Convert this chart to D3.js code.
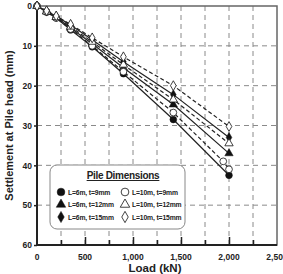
<!DOCTYPE html>
<html>
<head>
<meta charset="utf-8">
<script src="https://cdn.jsdelivr.net/npm/d3@7"></script>
<style>
  body { margin: 0; background: #fff; }
  text { font-family: "Liberation Sans", Arial, sans-serif; font-weight: bold; fill: #222; }
</style>
</head>
<body>
<div id="main"></div>
<script>
// load steps (kN)
const loads = [0, 100, 200, 350, 575, 900, 1420, 2000];
const loadsL10t9 = [0, 100, 200, 350, 575, 900, 1420, 1940, 2000];

// settlement at pile head (mm)
const sL6t9 = [0, 1.5, 3, 6, 10.25, 17, 28.5, 42.5];
const sL6t12 = [0, 1.4, 2.8, 5.5, 9.5, 15.5, 24.75, 37];
const sL6t15 = [0, 1.3, 2.6, 4.8, 8.5, 14, 22.25, 33];
const sL10t9 = [0, 1.5, 3, 5.8, 10, 16.5, 26.75, 39, 41];
const sL10t12 = [0, 1.4, 2.8, 5.2, 9, 14.75, 23.5, 34.5];
const sL10t15 = [0, 1.2, 2.5, 4.6, 8, 12.75, 20, 30.25];

const xTicks = [0, 500, 1000, 1500, 2000, 2500];
const yTicks = [0, 10, 20, 30, 40, 50, 60];

const series = [
  { name: 'L=6m, t=9mm', x: loads, y: sL6t9, shape: d3.symbolCircle, filled: true },
  { name: 'L=6m, t=12mm', x: loads, y: sL6t12, shape: d3.symbolTriangle, filled: true },
  { name: 'L=6m, t=15mm', x: loads, y: sL6t15, shape: d3.symbolDiamond, filled: true },
  { name: 'L=10m, t=9mm', x: loadsL10t9, y: sL10t9, shape: d3.symbolCircle, filled: false },
  { name: 'L=10m, t=12mm', x: loads, y: sL10t12, shape: d3.symbolTriangle, filled: false },
  { name: 'L=10m, t=15mm', x: loads, y: sL10t15, shape: d3.symbolDiamond, filled: false }
];

const width = 283;
const height = 274;
const margin = { top: 6, right: 6, bottom: 29, left: 37 };
const innerWidth = width - margin.left - margin.right;
const innerHeight = height - margin.top - margin.bottom;

const svg = d3.select('#main').append('svg')
    .attr('width', width)
    .attr('height', height);

const g = svg.append('g')
    .attr('transform', `translate(${margin.left},${margin.top})`);

const xScale = d3.scaleLinear().domain([0, 2500]).range([0, innerWidth]);
const yScale = d3.scaleLinear().domain([0, 60]).range([0, innerHeight]);

// grid
g.append('g').selectAll('line')
  .data(d3.range(250, 2500, 250))
  .join('line')
    .attr('x1', d => xScale(d)).attr('x2', d => xScale(d))
    .attr('y1', 0).attr('y2', innerHeight)
    .attr('stroke', '#8a8a8a').attr('stroke-dasharray', '5,4').attr('stroke-width', 1);
g.append('g').selectAll('line')
  .data([10, 20, 30, 40, 50])
  .join('line')
    .attr('y1', d => yScale(d)).attr('y2', d => yScale(d))
    .attr('x1', 0).attr('x2', innerWidth)
    .attr('stroke', '#8a8a8a').attr('stroke-dasharray', '5,4').attr('stroke-width', 1);

// frame top/right
g.append('rect')
    .attr('width', innerWidth).attr('height', innerHeight)
    .attr('fill', 'none').attr('stroke', '#666').attr('stroke-width', 1.5);

// x axis: inward ticks
const xAxisG = g.append('g').attr('transform', `translate(0,${innerHeight})`);
xAxisG.call(d3.axisBottom(xScale).tickValues(d3.range(250, 2500, 250)).tickSize(-5).tickFormat(''));
xAxisG.call(g2 => g2.selectAll('.tick line').attr('stroke', '#222').attr('stroke-width', 1.5)
  .filter(d => d % 500 === 0).attr('y2', -8));
xAxisG.select('.domain').remove();
xAxisG.append('g').selectAll('text')
  .data(xTicks)
  .join('text')
    .attr('x', d => xScale(d))
    .attr('y', 15)
    .attr('text-anchor', 'middle')
    .attr('font-size', 8.5)
    .text(d3.format(','));

g.append('line')
    .attr('x1', 0).attr('x2', innerWidth)
    .attr('y1', innerHeight).attr('y2', innerHeight)
    .attr('stroke', '#222').attr('stroke-width', 2);

// y axis
const yAxisG = g.append('g');
yAxisG.call(d3.axisLeft(yScale).tickValues(yTicks).tickSize(3).tickPadding(2));
yAxisG.select('.domain').remove();
yAxisG.selectAll('.tick line').attr('stroke', '#222').attr('stroke-width', 1.5);
yAxisG.selectAll('.tick text').attr('font-size', 8.5).attr('font-family', '"Liberation Sans", Arial, sans-serif')
  .attr('font-weight', 'bold').attr('fill', '#222');
g.append('line')
    .attr('x1', 0).attr('x2', 0)
    .attr('y1', 0).attr('y2', innerHeight)
    .attr('stroke', '#222').attr('stroke-width', 2);

// axis labels
g.append('text')
    .attr('x', innerWidth / 2 - 2)
    .attr('y', innerHeight + 27)
    .attr('text-anchor', 'middle')
    .attr('font-size', 11.5)
    .text('Load (kN)');
g.append('text')
    .attr('transform', `translate(-24,${innerHeight / 2}) rotate(-90)`)
    .attr('text-anchor', 'middle')
    .attr('font-size', 11)
    .text('Settlement at Pile head (mm)');

// lines
const line = d3.line();
series.forEach(s => {
  const pts = s.x.map((x, i) => [xScale(x), yScale(s.y[i])]);
  g.append('path')
      .attr('d', line(pts))
      .attr('fill', 'none')
      .attr('stroke', '#222')
      .attr('stroke-width', 1.2)
      .attr('stroke-dasharray', s.filled ? null : '4,2.5');
});

const symbolSize = shape => shape === d3.symbolTriangle ? 30 : shape === d3.symbolDiamond ? 28 : 36;

series.forEach(s => {
  g.append('g').selectAll('path')
    .data(s.x.map((x, i) => [x, s.y[i]]))
    .join('path')
      .attr('transform', d => `translate(${xScale(d[0])},${yScale(d[1])})`)
      .attr('d', d3.symbol(s.shape, symbolSize(s.shape)))
      .attr('fill', s.filled ? '#111' : '#fff')
      .attr('stroke', '#111')
      .attr('stroke-width', s.filled ? 0.5 : 0.8);
});

// legend
const lg = svg.append('g').attr('transform', 'translate(50,165)');
lg.append('rect')
    .attr('width', 135).attr('height', 64)
    .attr('rx', 7)
    .attr('fill', '#fff').attr('stroke', '#888').attr('stroke-width', 1);
lg.append('text')
    .attr('x', 73).attr('y', 14)
    .attr('text-anchor', 'middle')
    .attr('font-size', 10)
    .attr('text-decoration', 'underline')
    .attr('letter-spacing', -0.3)
    .text('Pile Dimensions');
series.forEach((s, i) => {
  const col = i < 3 ? 0 : 1;
  const row = i % 3;
  const item = lg.append('g').attr('transform', `translate(${11 + col * 64},${27 + row * 12.5})`);
  item.append('path')
      .attr('d', d3.symbol(s.shape, symbolSize(s.shape) * 1.3))
      .attr('fill', s.filled ? '#111' : '#fff')
      .attr('stroke', '#111')
      .attr('stroke-width', s.filled ? 0.5 : 0.8);
  item.append('text')
      .attr('x', 7).attr('y', 2.5)
      .attr('font-size', 6.8)
      .attr('letter-spacing', -0.15)
      .text(s.name);
});
</script>
</body>
</html>
